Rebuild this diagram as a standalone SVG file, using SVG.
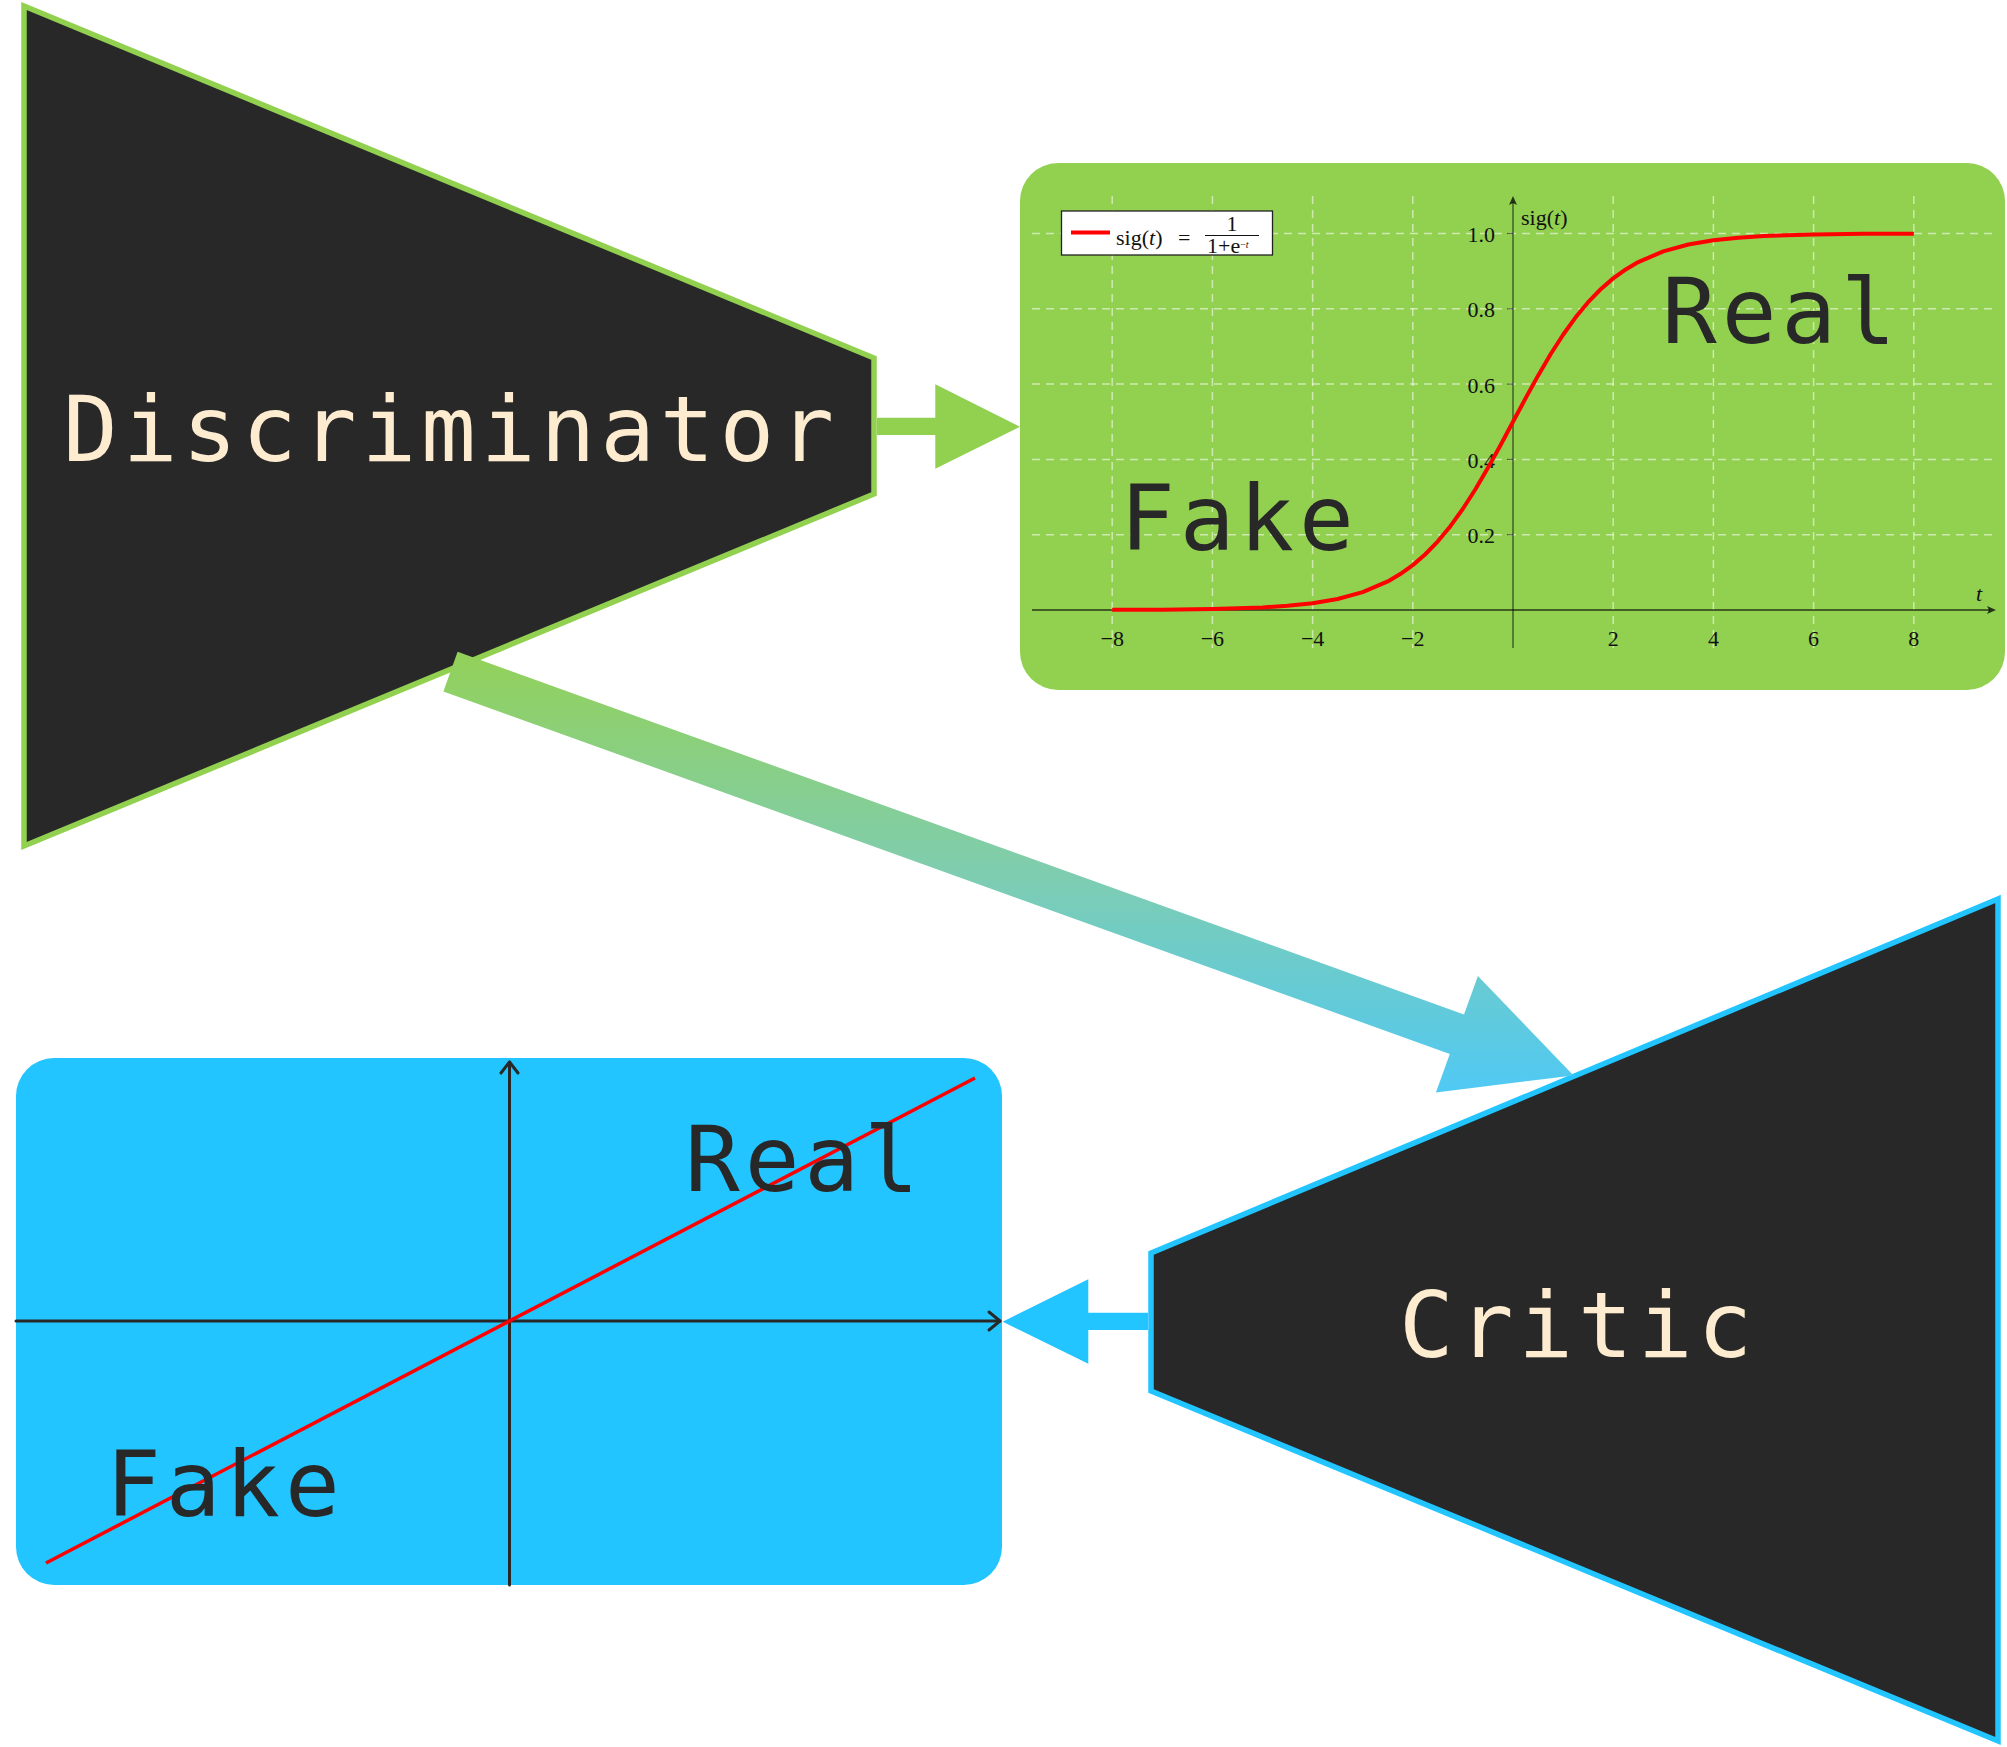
<svg xmlns="http://www.w3.org/2000/svg" width="2007" height="1747" viewBox="0 0 2007 1747">
<defs>
<style>
.trap{fill:#282828;stroke-width:5.5;stroke-linejoin:miter}
.big{font-family:"DejaVu Sans Mono","Liberation Mono",monospace;font-size:91px;letter-spacing:4.9px}
.cream{fill:#fdecd0}
.dark{fill:#282828}
.grid{stroke:#ffffff;stroke-opacity:0.55;stroke-width:1.5;stroke-dasharray:8 6;fill:none}
.tick{font-family:"Liberation Serif","DejaVu Serif",serif;font-size:22px;fill:#111}
.ax{stroke:#000;stroke-opacity:0.55;fill:none}
.bax{stroke:#282828;stroke-width:3;fill:none;stroke-linecap:round;stroke-linejoin:round}
</style>
<linearGradient id="grad" gradientUnits="userSpaceOnUse" x1="0" y1="650" x2="0" y2="1095">
<stop offset="0" stop-color="#93d157"/>
<stop offset="0.5" stop-color="#7fcdb0"/>
<stop offset="1" stop-color="#4fc9f5"/>
</linearGradient>
</defs>
<rect width="2007" height="1747" fill="#ffffff"/>

<g id="sigmoid-plot">
<rect x="1020" y="163" width="985" height="527" rx="38" ry="38" fill="#92d050"/>
<g class="grid">
<line x1="1032" y1="534.7" x2="1998" y2="534.7"/>
<line x1="1032" y1="459.4" x2="1998" y2="459.4"/>
<line x1="1032" y1="384.1" x2="1998" y2="384.1"/>
<line x1="1032" y1="308.8" x2="1998" y2="308.8"/>
<line x1="1032" y1="233.5" x2="1998" y2="233.5"/>
<line x1="1112.2" y1="196" x2="1112.2" y2="648"/>
<line x1="1212.4" y1="196" x2="1212.4" y2="648"/>
<line x1="1312.6" y1="196" x2="1312.6" y2="648"/>
<line x1="1412.8" y1="196" x2="1412.8" y2="648"/>
<line x1="1613.2" y1="196" x2="1613.2" y2="648"/>
<line x1="1713.4" y1="196" x2="1713.4" y2="648"/>
<line x1="1813.6" y1="196" x2="1813.6" y2="648"/>
<line x1="1913.8" y1="196" x2="1913.8" y2="648"/>
</g>
<line class="ax" x1="1032" y1="610" x2="1990" y2="610" stroke-width="2"/>
<path d="M1996,610 L1987,606 L1989,610 L1987,614 Z" fill="#000" fill-opacity="0.75"/>
<line class="ax" x1="1513" y1="648" x2="1513" y2="202" stroke-width="1.5"/>
<path d="M1513,196 L1509,205 L1513,203 L1517,205 Z" fill="#000" fill-opacity="0.75"/>
<g class="ax" stroke-width="1.2">
<line x1="1507" y1="534.7" x2="1513" y2="534.7"/>
<line x1="1507" y1="459.4" x2="1513" y2="459.4"/>
<line x1="1507" y1="384.1" x2="1513" y2="384.1"/>
<line x1="1507" y1="308.8" x2="1513" y2="308.8"/>
<line x1="1507" y1="233.5" x2="1513" y2="233.5"/>
</g>
<g class="tick" text-anchor="middle">
<text x="1112.2" y="646">−8</text>
<text x="1212.4" y="646">−6</text>
<text x="1312.6" y="646">−4</text>
<text x="1412.8" y="646">−2</text>
<text x="1613.2" y="646">2</text>
<text x="1713.4" y="646">4</text>
<text x="1813.6" y="646">6</text>
<text x="1913.8" y="646">8</text>
</g>
<g class="tick" text-anchor="end">
<text x="1495" y="543">0.2</text>
<text x="1495" y="468">0.4</text>
<text x="1495" y="392.5">0.6</text>
<text x="1495" y="317">0.8</text>
<text x="1495" y="242">1.0</text>
</g>
<text class="tick" x="1521" y="225">sig(<tspan font-style="italic">t</tspan>)</text>
<text class="tick" x="1976" y="601" font-style="italic">t</text>
<polyline fill="none" stroke="#ff0000" stroke-width="4" stroke-linejoin="round" stroke-linecap="butt" points="1112.2,609.87 1162.3,609.66 1212.4,609.07 1262.5,607.48 1287.55,605.86 1312.6,603.23 1337.65,598.96 1362.7,592.14 1387.75,581.44 1400.28,574.10 1412.8,565.12 1425.33,554.26 1437.85,541.32 1450.38,526.15 1462.9,508.74 1475.43,489.21 1487.95,467.86 1500.48,445.16 1513,421.75 1525.53,398.34 1538.05,375.64 1550.58,354.29 1563.1,334.76 1575.63,317.35 1588.15,302.18 1600.68,289.24 1613.2,278.38 1625.73,269.40 1638.25,262.06 1663.3,251.36 1688.35,244.54 1713.4,240.27 1738.45,237.64 1763.5,236.02 1813.6,234.43 1863.7,233.84 1913.8,233.63"/>
<rect x="1061.5" y="211" width="211" height="44" fill="#ffffff" stroke="#222" stroke-width="1.3"/>
<line x1="1071" y1="232.5" x2="1110" y2="232.5" stroke="#ff0000" stroke-width="4"/>
<text class="tick" x="1116" y="245" font-size="24">sig(<tspan font-style="italic">t</tspan>)</text>
<text class="tick" x="1178" y="245" font-size="24">=</text>
<line x1="1205" y1="235.5" x2="1259" y2="235.5" stroke="#111" stroke-width="1"/>
<text class="tick" x="1232" y="231" font-size="13" text-anchor="middle">1</text>
<text class="tick" x="1207" y="253" font-size="13">1+e<tspan dy="-5" font-size="10">−<tspan font-style="italic">t</tspan></tspan></text>
<text class="big dark" x="1120" y="550">Fake</text>
<text class="big dark" x="1662" y="343">Real</text>
</g>

<g id="linear-plot">
<rect x="16" y="1058" width="986" height="527" rx="38" ry="38" fill="#22c5ff"/>
<line class="bax" x1="16" y1="1321" x2="1000" y2="1321"/>
<polyline class="bax" points="989,1312 1000,1321 989,1330"/>
<line class="bax" x1="509.5" y1="1585" x2="509.5" y2="1062"/>
<polyline class="bax" points="501,1073 509.5,1062 518,1073"/>
<line x1="46" y1="1563" x2="975" y2="1078" stroke="#ff0000" stroke-width="3.5"/>
<text class="big dark" x="685" y="1191">Real</text>
<text class="big dark" x="106" y="1516">Fake</text>
</g>

<g id="discriminator">
<polygon class="trap" stroke="#92d050" points="24,6 874,358 874,494 24,846"/>
<text class="big cream" x="63" y="461">Discriminator</text>
</g>

<g id="critic">
<polygon class="trap" stroke="#22c5ff" points="1998,899 1151,1253 1151,1391 1998,1741"/>
<text class="big cream" x="1399" y="1357">Critic</text>
</g>

<g id="connectors">
<polygon fill="#92d050" points="877,417.7 935.3,417.7 935.3,384.3 1020,426.7 935.3,468.7 935.3,435 877,435"/>
<polygon fill="#22c5ff" points="1148,1312.7 1088.3,1312.7 1088.3,1279.3 1002.7,1321.7 1088.3,1363.7 1088.3,1330 1148,1330"/>
<polygon fill="url(#grad)" points="457.6,651.8 1464,1014.4 1477.9,975.9 1573.5,1075.5 1435.9,1092.5 1449.8,1054 443.4,691.4"/>
</g>
</svg>
